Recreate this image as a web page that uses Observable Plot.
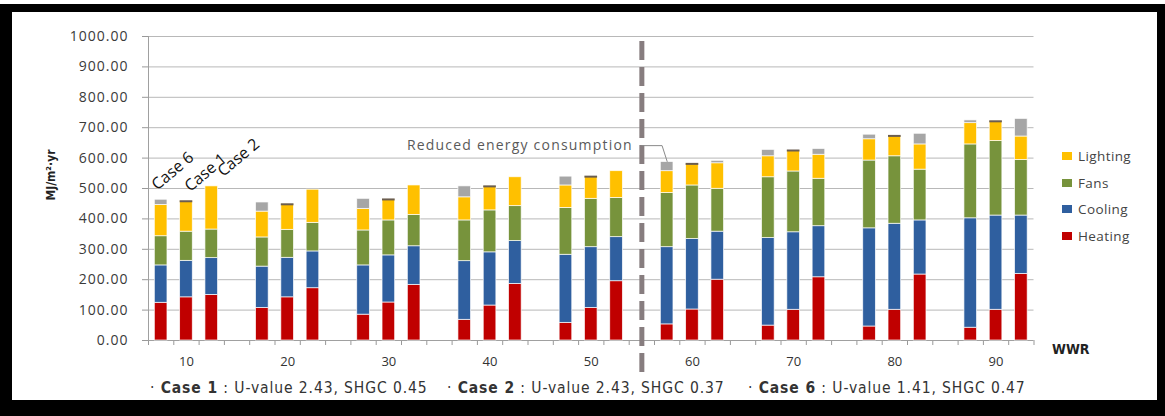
<!DOCTYPE html>
<html><head><meta charset="utf-8">
<script src="https://cdn.jsdelivr.net/npm/d3@7"></script>
<script src="https://cdn.jsdelivr.net/npm/@observablehq/plot@0.6"></script>
<style>
body{margin:0;background:#fff;width:1165px;height:416px;overflow:hidden;position:relative;font-family:"Open Sans",sans-serif}
#frame{position:absolute;left:0;top:4px;width:1165px;height:412px;background:#000}
#inner{position:absolute;left:12px;top:12px;width:1145px;height:388px;background:#fff}
#chart{position:absolute;left:0;top:0}
#ytitle{position:absolute;left:51px;top:175px;transform:translate(-50%,-50%) rotate(-90deg);font-family:"Liberation Sans Narrow","DejaVu Sans Condensed",sans-serif;font-weight:bold;font-size:12px;color:#222;white-space:nowrap}
#wwr{position:absolute;left:1052px;top:341px;font-family:"Liberation Sans Narrow","DejaVu Sans Condensed",sans-serif;font-weight:bold;font-size:14px;color:#222}
#legend{position:absolute;left:1062px;top:147px;font-family:"Open Sans",sans-serif;font-size:13.5px;color:#444;letter-spacing:0.4px}
#legend .item{height:26.5px;display:flex;align-items:flex-start}
#legend .sw{width:10px;height:8px;margin-right:6px;margin-top:5px}
#foot{position:absolute;left:0;top:379px;font-family:"Liberation Sans Narrow","DejaVu Sans Condensed",sans-serif;font-size:15.5px;letter-spacing:0.9px;color:#333;white-space:nowrap}
#foot span{position:absolute;top:0}
</style></head><body>
<div id="frame"></div><div id="inner"></div>
<div id="chart"></div>
<div id="ytitle">MJ/m²·yr</div>
<div id="wwr">WWR</div>
<div id="legend"></div>
<div id="foot"></div>
<script>
// ---- data ----
const wwr = [10, 20, 30, 40, 50, 60, 70, 80, 90];
const cases = ["Case 6", "Case 1", "Case 2"];
const components = ["Heating", "Cooling", "Fans", "Lighting"];
const colors = ["#c00000", "#2f5f9f", "#77933c", "#ffc000"];
const reducedColor = "#a6a6a6";

const heating6 = [124, 107, 85, 68, 58, 53, 49, 46, 42];
const heating1 = [142, 142, 125, 115, 107, 102, 101, 101, 101];
const heating2 = [150, 172, 183, 186, 195, 200, 208, 217, 219];
const cooling6 = [123, 136, 162, 193, 224, 254, 288, 323, 360];
const cooling1 = [120, 130, 155, 175, 200, 232, 255, 283, 310];
const cooling2 = [121, 121, 127, 141, 145, 158, 168, 178, 192];
const fans6 = [96, 96, 115, 134, 154, 178, 200, 223, 243];
const fans1 = [96, 92, 115, 138, 159, 176, 200, 222, 245];
const fans2 = [94, 94, 103, 115, 129, 141, 156, 167, 183];
const lighting6 = [103, 85, 71, 76, 74, 72, 69, 70, 70];
const lighting1 = [100, 84, 69, 79, 73, 71, 69, 67, 65];
const lighting2 = [142, 109, 97, 95, 88, 84, 79, 83, 77];
const reduced6 = [17, 30, 33, 36, 29, 30, 21, 15, 9];
const reduced1 = [0, 0, 0, 0, 0, 0, 0, 0, 0];
const reduced2 = [0, 0, 0, 0, 0, 8, 19, 35, 58];

const yTicks = [0, 100, 200, 300, 400, 500, 600, 700, 800, 900, 1000];
const footnotes = [
  ["Case 1", " : U-value 2.43, SHGC 0.45"],
  ["Case 2", " : U-value 2.43, SHGC 0.37"],
  ["Case 6", " : U-value 1.41, SHGC 0.47"]
];
const annotationText = "Reduced energy consumption";

// ---- build table ----
const byCase = {
  "Case 6": [heating6, cooling6, fans6, lighting6, reduced6],
  "Case 1": [heating1, cooling1, fans1, lighting1, reduced1],
  "Case 2": [heating2, cooling2, fans2, lighting2, reduced2]
};
const slotsPerGroup = 4; // 3 bars + 1 empty slot
const nSlots = wwr.length * slotsPerGroup - 1;
const segs = [], tops = [];
wwr.forEach((w, g) => {
  cases.forEach((c, k) => {
    const s = g * slotsPerGroup + k;
    let acc = 0;
    byCase[c].forEach((arr, j) => {
      const v = arr[g];
      const name = j < components.length ? components[j] : "Reduced";
      if (v > 0) segs.push({wwr: w, case: c, k, slot: s, comp: name, y1: acc, y2: acc + v});
      acc += v;
    });
    tops.push({wwr: w, case: c, k, slot: s, total: acc, reduced: byCase[c][4][g]});
  });
});
const fillOf = name => name === "Reduced" ? reducedColor : colors[components.indexOf(name)];

const gapSlot = wwr.indexOf(50) * slotsPerGroup + 3;       // empty slot between 50 and 60
const target = tops.find(d => d.wwr === 60 && d.case === "Case 6");

const chart = Plot.plot({
  width: 1165,
  height: 380,
  marginLeft: 148,
  marginRight: 131.5,
  marginTop: 36,
  marginBottom: 40,
  style: {background: "transparent", fontFamily: "Open Sans, sans-serif"},
  x: {type: "linear", domain: [0, nSlots], axis: null},
  y: {domain: [0, 1000], axis: null},
  marks: [
    Plot.gridY(yTicks.filter(d => d > 0), {stroke: "#b8b8b8", strokeOpacity: 1}),
    Plot.axisY({ticks: yTicks, tickFormat: d3.format(".2f"), tickSize: 6, tickPadding: 14,
      stroke: "#999", fill: "#3a3a3a", fontSize: 14, label: null}),
    Plot.axisX({ticks: d3.range(0, nSlots + 1), tickFormat: () => "", tickSize: 5, stroke: "#999", label: null}),
    Plot.ruleY([0], {stroke: "#a0a0a0"}),
    Plot.ruleX([0], {y1: 0, y2: 1000, stroke: "#a0a0a0"}),
    Plot.rect(segs, {x1: d => d.slot + 0.25, x2: d => d.slot + 0.75, y1: "y1", y2: "y2",
      fill: d => fillOf(d.comp), stroke: "#ffffff", strokeWidth: 0.8, strokeOpacity: 0.85}),
    Plot.ruleY(tops.filter(d => d.case === "Case 1"), {y: "total", x1: d => d.slot + 0.25, x2: d => d.slot + 0.75,
      stroke: "#6a5d50", strokeWidth: 2}),
    Plot.text(wwr, {x: (d, i) => i * slotsPerGroup + 1.5, y: 0, dy: 21, text: d => String(d),
      fontSize: 13, fill: "#333"}),
    Plot.text(tops.filter(d => d.wwr === wwr[0]), {x: d => d.slot + 0.35 + 0.3 * d.k, y: d => d.total + 30, text: "case",
      rotate: -40, textAnchor: "start", lineAnchor: "bottom", fontSize: 16, fill: "#111"}),
    Plot.ruleX([gapSlot + 0.5], {y1: -105, y2: 1000, stroke: "#877d7f", strokeWidth: 5, strokeDasharray: "19,7"}),
    Plot.line([
      {x: gapSlot + 0.5, y: target.total + 54},
      {x: target.slot + 0.3, y: target.total + 54},
      {x: target.slot + 0.5, y: target.total + 2}
    ], {x: "x", y: "y", stroke: "#8a8a8a", strokeWidth: 1}),
    Plot.text([annotationText], {x: gapSlot + 0.5, y: target.total + 54, text: d => d, textAnchor: "end",
      dx: -9, fontSize: 14, fill: "#5a5a5a"})
  ]
});
// letter spacing tweaks on specific texts
d3.select(chart).selectAll("text").each(function () {
  const t = this.textContent;
  if (/^\d+\.00$/.test(t)) this.setAttribute("letter-spacing", "1px");
  if (t === annotationText) this.setAttribute("letter-spacing", "1.2px");
});
document.getElementById("chart").appendChild(chart);

// legend (top to bottom: Lighting, Fans, Cooling, Heating)
const legend = document.getElementById("legend");
components.slice().reverse().forEach(c => {
  const item = document.createElement("div");
  item.className = "item";
  item.innerHTML = `<span class="sw" style="background:${fillOf(c)}"></span><span>${c}</span>`;
  legend.appendChild(item);
});

// footnote
const foot = document.getElementById("foot");
const footLeft = [150, 447, 748];
footnotes.forEach(([b, rest], i) => {
  const sp = document.createElement("span");
  sp.style.left = footLeft[i] + "px";
  sp.innerHTML = `· <b>${b}</b>${rest}`;
  foot.appendChild(sp);
});
</script>
</body></html>
